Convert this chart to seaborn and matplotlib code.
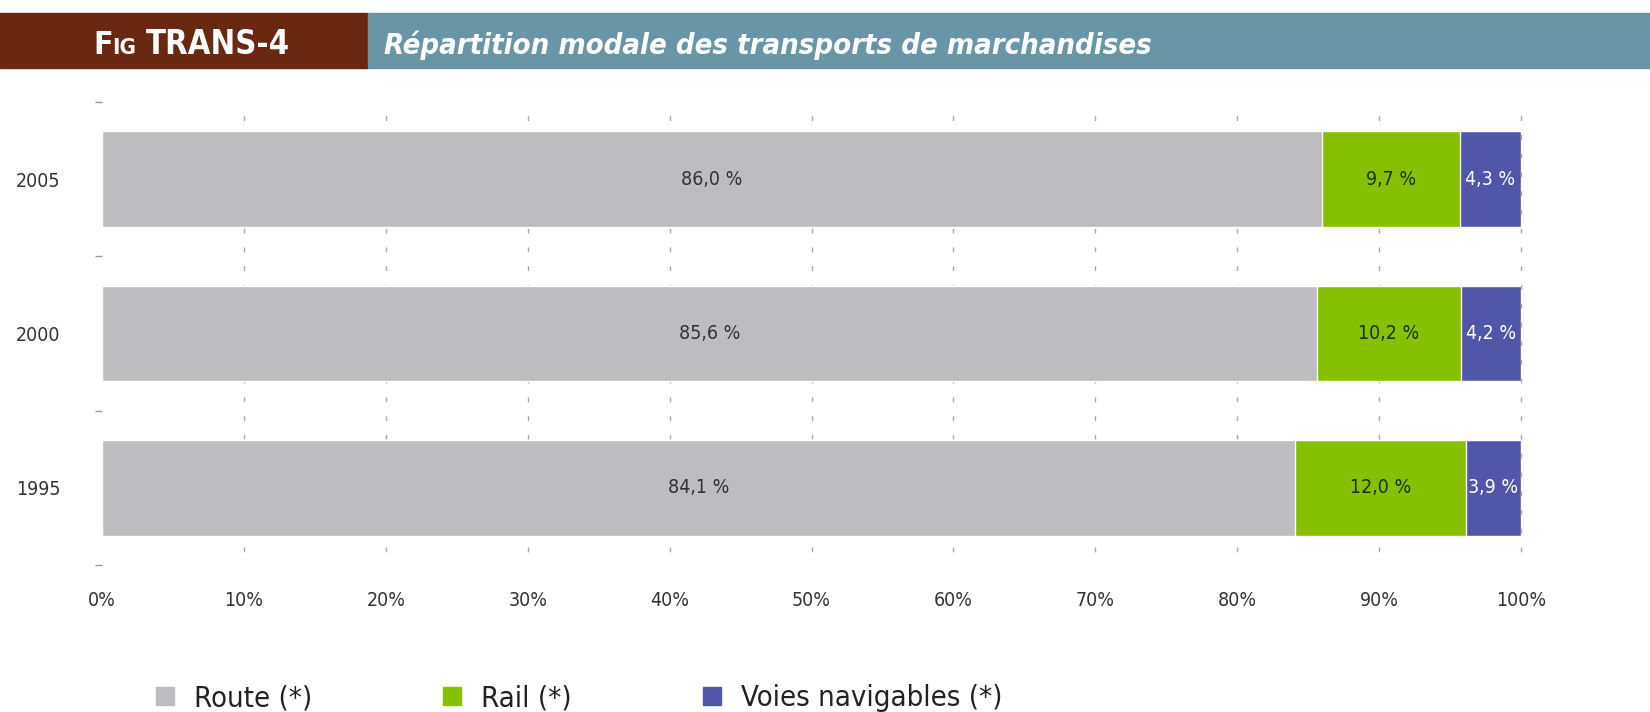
import pandas as pd
import matplotlib.pyplot as plt
import seaborn as sns
from matplotlib.patches import Rectangle
from matplotlib.lines import Line2D

# Data
years = ['2005', '2000', '1995']
route = [86.0, 85.6, 84.1]
rail = [9.7, 10.2, 12.0]
voies = [4.3, 4.2, 3.9]
xticks = [0, 10, 20, 30, 40, 50, 60, 70, 80, 90, 100]

series_names = ['Route (*)', 'Rail (*)', 'Voies navigables (*)']
colors = ['#bdbdbf', '#86c000', '#5256a8']
label_colors = ['#333333', '#1c3300', 'white']

sns.set_style('white')
plt.rcParams['font.family'] = ['DejaVu Sans']
plt.rcParams['font.stretch'] = 'condensed'

df = pd.DataFrame({'year': years, 'route': route, 'rail': rail, 'voies': voies})
df['c_route'] = df['route']
df['c_rail'] = df['route'] + df['rail']
df['c_voies'] = df['route'] + df['rail'] + df['voies']

fig = plt.figure(figsize=(16.5, 7.12), dpi=100)
ax = fig.add_axes([102 / 1650, 147 / 712, 1419 / 1650, 463 / 712])

# stacked bars: draw cumulative totals, widest first
for col, c in zip(['c_voies', 'c_rail', 'c_route'], colors[::-1]):
    sns.barplot(data=df, x=col, y='year', order=years, orient='h', color=c,
                saturation=1, width=0.62, ax=ax, zorder=2)

# segment labels
for i, yr in enumerate(years):
    start = 0
    for j, col in enumerate(['route', 'rail', 'voies']):
        v = df.loc[i, col]
        ax.text(start + v / 2, i, f'{v:.1f} %'.replace('.', ','), ha='center', va='center',
                fontsize=14, color=label_colors[j], zorder=3)
        start += v

ax.set_xlim(0, 100)
ax.set_ylim(2.5, -0.5)
ax.set_xticks(xticks)
ax.set_xticklabels([f'{t}%' for t in xticks], fontsize=14, color='#333333')
ax.set_yticks(range(len(years)))
ax.set_yticklabels(years, fontsize=14, color='#333333')
ax.set_yticks([-0.5, 0.5, 1.5, 2.5], minor=True)
ax.tick_params(axis='x', length=0, pad=19)
ax.tick_params(axis='y', which='minor', left=True, length=5, color='#999999', width=1)
ax.set_xlabel('')
ax.set_ylabel('')
for s in ax.spines.values():
    s.set_visible(False)
for t in xticks[1:]:
    ax.axvline(t, color='#aaaaaa', lw=1, linestyle=(4, (3.5, 10)), zorder=1, clip_on=False)

# y labels left aligned at fixed spot
for lab in ax.get_yticklabels():
    lab.set_horizontalalignment('left')
ax.tick_params(axis='y', which='major', length=0, pad=86 * 0.72)

# header band
fig.patches.append(Rectangle((0, 1 - 68 / 712), 368 / 1650, 55 / 712,
                             transform=fig.transFigure, color='#6a2811', zorder=0))
fig.patches.append(Rectangle((368 / 1650, 1 - 68 / 712), 1 - 368 / 1650, 55 / 712,
                             transform=fig.transFigure, color='#6896a6', zorder=0))
yb = 1 - 54 / 712
fig.text(93 / 1650, yb, 'F', color='white', fontsize=23, fontweight='bold', va='baseline')
fig.text(112 / 1650, yb, 'IG', color='white', fontsize=16, fontweight='bold', va='baseline')
fig.text(146 / 1650, yb, 'TRANS-4', color='white', fontsize=23.5, fontweight='bold', va='baseline')
fig.text(384 / 1650, yb, 'Répartition modale des transports de marchandises', color='white',
         fontsize=21, fontweight='bold', fontstyle='italic', va='baseline')

# legend
handles = [Line2D([], [], marker='s', linestyle='none', markersize=13, color=c) for c in colors]
fig.legend(handles, series_names, loc='center left', bbox_to_anchor=(150 / 1650, 1 - 698 / 712),
           ncol=3, frameon=False, fontsize=21, columnspacing=4.3, handlelength=1,
           handletextpad=0.5, labelcolor='#222222', borderaxespad=0, borderpad=0)

fig.savefig('out.png', dpi=100)
